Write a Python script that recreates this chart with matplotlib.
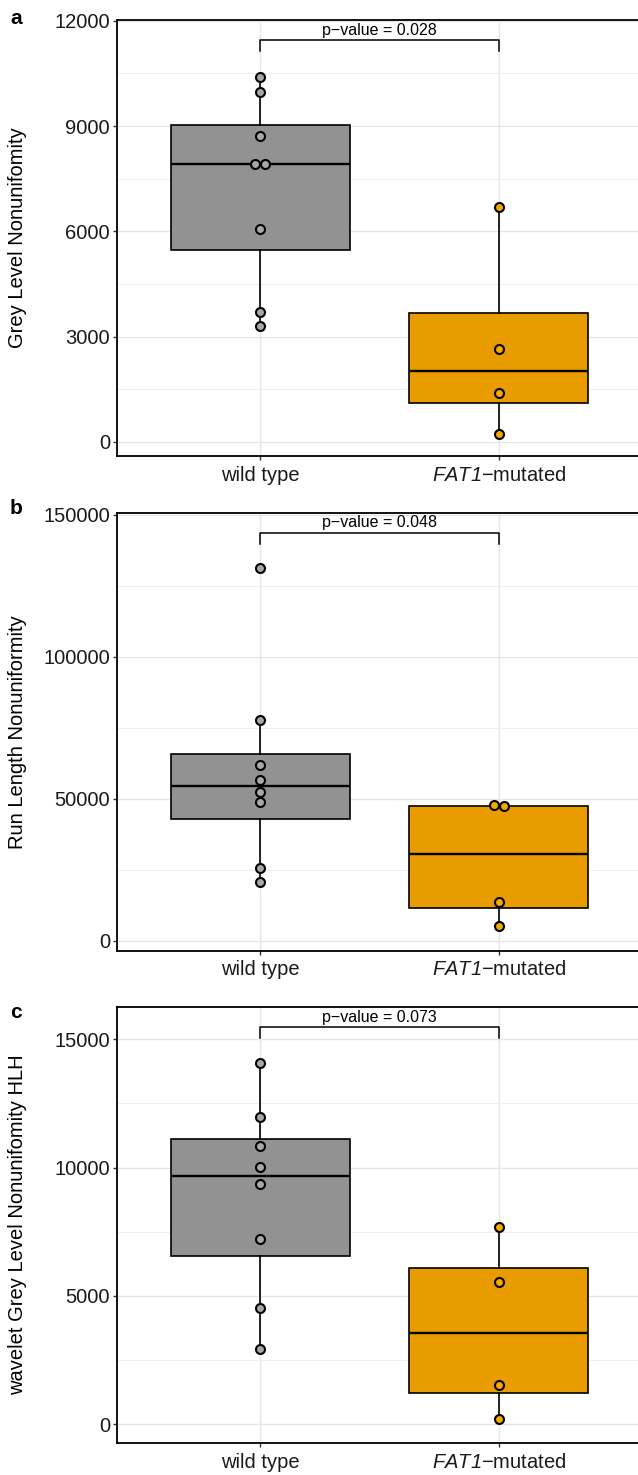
import numpy as np
import matplotlib.pyplot as plt
from matplotlib.ticker import AutoMinorLocator

plt.rcParams['font.family'] = ['Liberation Sans', 'DejaVu Sans']
plt.rcParams['mathtext.fontset'] = 'custom'
plt.rcParams['mathtext.it'] = 'Liberation Sans:italic'
plt.rcParams['mathtext.rm'] = 'Liberation Sans:italic'  # so the digit in FAT1 is italic too

####################

groups = ['wild type', r'$FAT1$' + '\u2212mutated']

# a - grey level nonuniformity
wt_a = [10400, 9980, 8720, 7930, 7930, 6060, 3710, 3300]
mut_a = [6700, 2660, 1390, 230]
# b - run length nonuniformity
wt_b = [131200, 77700, 61960, 56800, 52300, 48770, 25560, 20600]
mut_b = [47700, 47500, 13550, 5300]
# c - wavelet HLH
wt_c = [14080, 11960, 10820, 10030, 9340, 7215, 4510, 2930]
mut_c = [7670, 5540, 1540, 210]

ylabels = ['Grey Level Nonunifomity', 'Run Length Nonuniformity',
           'wavelet Grey Level Nonunifomity HLH']
letters = ['a', 'b', 'c']
pvals = ['0.028', '0.048', '0.073']
bracket_y = [11450, 143800, 15490]
bracket_tip = [11150, 139800, 15040]
yticks = [[0, 3000, 6000, 9000, 12000],
          [0, 50000, 100000, 150000],
          [0, 5000, 10000, 15000]]
ylims = [(-400, 12020), (-3500, 150800), (-740, 16270)]

####################

W, H = 638, 1475
tops = [20, 512.7, 1006.7]
bots = [456, 950.7, 1443]
letter_y = [18, 508, 1012]
left, right = 117, 642

box_cols = ['#929292', '#E89C00']
pt_cols = ['#A8A8A8', '#F2A900']


def dodge(vals, rng):
    xs = np.zeros(len(vals))
    for i in range(len(vals)):
        for j in range(i):
            if abs(vals[i] - vals[j]) < 0.01 * rng:
                xs[j] = -0.02
                xs[i] = 0.02
    return xs


fig = plt.figure(figsize=(W / 100, H / 100), dpi=100)

data = [(wt_a, mut_a), (wt_b, mut_b), (wt_c, mut_c)]

for k in range(3):
    ax = fig.add_axes([left / W, 1 - bots[k] / H, (right - left) / W, (bots[k] - tops[k]) / H])
    wt, mut = data[k]

    bp = ax.boxplot([wt, mut], positions=[1, 2], widths=0.75, whis=1.5,
                    showfliers=False, showcaps=False, patch_artist=True,
                    boxprops=dict(edgecolor='black', linewidth=1.2),
                    medianprops=dict(color='black', linewidth=1.7),
                    whiskerprops=dict(color='black', linewidth=1.2))
    for patch, col in zip(bp['boxes'], box_cols):
        patch.set_facecolor(col)

    rng = ylims[k][1] - ylims[k][0]
    for i, vals in enumerate([wt, mut]):
        ax.scatter(i + 1 + dodge(vals, rng), vals, s=42, c=pt_cols[i],
                   edgecolors='black', linewidths=1.5, zorder=3)

    # significance bracket
    ax.plot([1, 1, 2, 2], [bracket_tip[k], bracket_y[k], bracket_y[k], bracket_tip[k]],
            color='black', lw=1.1)
    ax.annotate('p\u2212value = ' + pvals[k], xy=(1.5, bracket_y[k]), xytext=(0, 1.5),
                textcoords='offset points', ha='center', va='bottom', fontsize=11.5)

    ax.set_xlim(0.4, 2.6)
    ax.set_ylim(*ylims[k])
    ax.set_yticks(yticks[k])
    ax.yaxis.set_minor_locator(AutoMinorLocator(2))
    ax.set_xticks([1, 2])
    ax.set_xticklabels(groups)

    ax.set_axisbelow(True)
    ax.grid(which='major', color='#E6E6E6', lw=1.0)
    ax.grid(which='minor', axis='y', color='#EFEFEF', lw=0.8)
    ax.tick_params(which='major', length=3, width=1, color='#333333',
                   labelsize=14.5, labelcolor='#1a1a1a', pad=2)
    ax.tick_params(axis='x', pad=4)
    ax.tick_params(which='minor', length=0)
    for s in ax.spines.values():
        s.set_linewidth(1.3)
        s.set_color('black')

    fig.text(18 / W, 1 - (tops[k] + bots[k]) / 2 / H, ylabels[k], rotation=90,
             ha='center', va='center', fontsize=14.5)
    fig.text(16 / W, 1 - letter_y[k] / H, letters[k], ha='center', va='center',
             fontsize=15, fontweight='bold')

fig.savefig('out.png', dpi=100)
